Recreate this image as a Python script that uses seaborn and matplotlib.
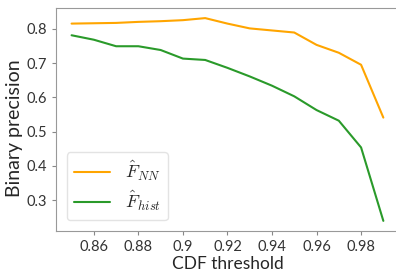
import matplotlib
matplotlib.use("Agg")
import matplotlib.pyplot as plt
import seaborn as sns
import pandas as pd

thresholds = [0.85, 0.86, 0.87, 0.88, 0.89, 0.90, 0.91, 0.92, 0.93, 0.94, 0.95, 0.96, 0.97, 0.98, 0.99]
f_nn = [0.815, 0.816, 0.817, 0.820, 0.822, 0.825, 0.831, 0.815, 0.801, 0.795, 0.789, 0.753, 0.730, 0.695, 0.541]
f_hist = [0.781, 0.768, 0.749, 0.749, 0.738, 0.713, 0.709, 0.686, 0.661, 0.634, 0.603, 0.563, 0.532, 0.454, 0.240]
labels = [r"$\hat{F}_{NN}$", r"$\hat{F}_{hist}$"]
xticks = [0.86, 0.88, 0.90, 0.92, 0.94, 0.96, 0.98]
xticklabels = ["0.86", "0.88", "0.9", "0.92", "0.94", "0.96", "0.98"]
yticks = [0.3, 0.4, 0.5, 0.6, 0.7, 0.8]

sns.set_style("ticks")
plt.rcParams["font.family"] = ["Lato", "DejaVu Sans"]
plt.rcParams["mathtext.fontset"] = "cm"

df = pd.DataFrame({
    "x": thresholds * 2,
    "y": f_nn + f_hist,
    "series": [labels[0]] * len(thresholds) + [labels[1]] * len(thresholds),
})

fig = plt.figure(figsize=(3.96, 2.72), dpi=100)
ax = fig.add_axes([0.1414, 0.1507, 0.866, 0.82])
sns.lineplot(data=df, x="x", y="y", hue="series", palette=["orange", "#2a9a2a"],
             linewidth=1.5, ax=ax)
ax.set_xticks(xticks)
ax.set_xticklabels(xticklabels)
ax.set_yticks(yticks)
ax.tick_params(labelsize=10.5, length=3, color="#888888", colors="#333333")
ax.set_xlabel("CDF threshold", fontsize=12.5)
ax.set_ylabel("Binary precision", fontsize=14)
ax.yaxis.set_label_coords(-0.096, 0.46)
ax.xaxis.set_label_coords(0.5, -0.11)
for s in ax.spines.values():
    s.set_color("#999999")
leg = ax.legend(loc="lower left", fontsize=13, frameon=True, handlelength=2.0,
                borderaxespad=0.6, labelspacing=0.3)
leg.get_frame().set_edgecolor("#dddddd")
fig.savefig("out.png", dpi=100)
